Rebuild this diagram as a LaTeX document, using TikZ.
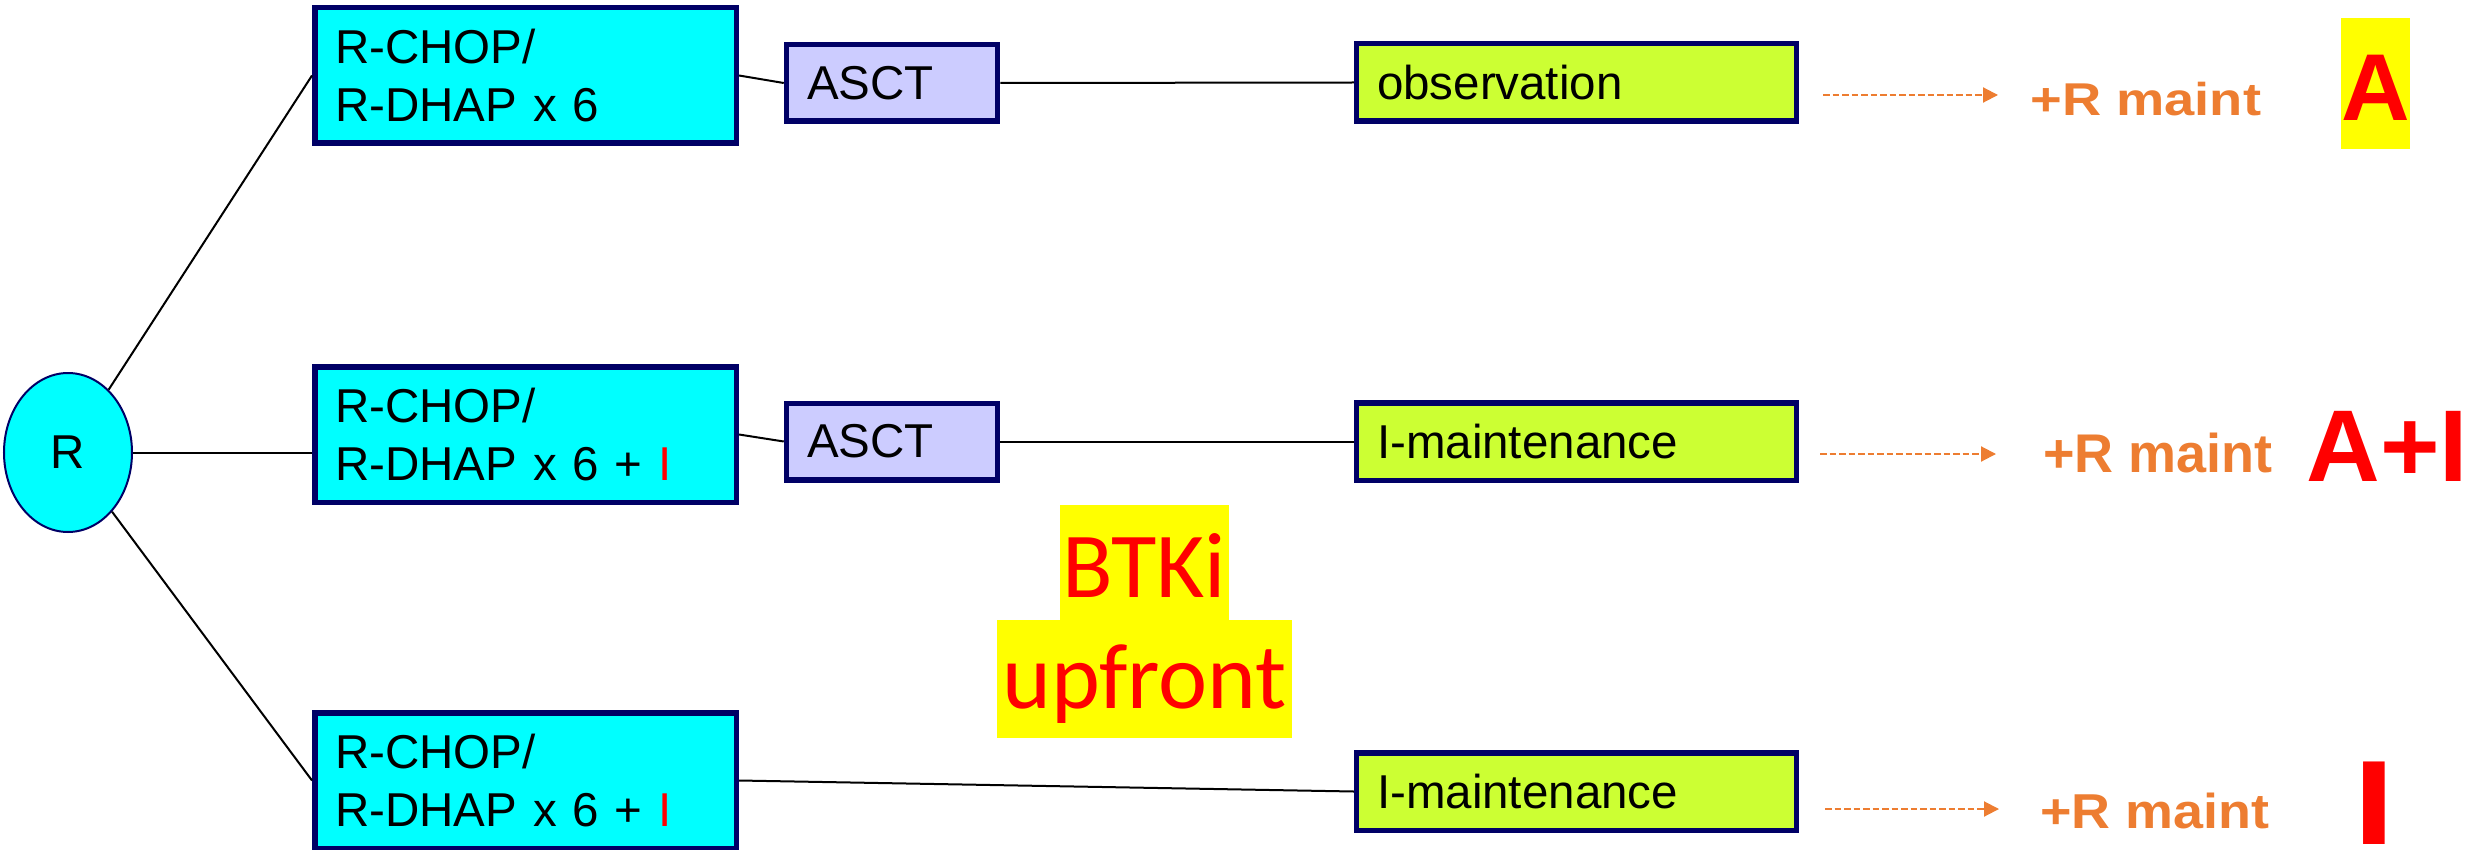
\documentclass[tikz,border=0pt]{standalone}
\usepackage{fontspec}
\setmainfont{Liberation Sans}
\newfontfamily\calib{Carlito}
\usetikzlibrary{arrows.meta,shapes.geometric}
\definecolor{navy}{RGB}{0,0,102}
\definecolor{boxcyan}{RGB}{0,255,255}
\definecolor{asctfill}{RGB}{204,204,255}
\definecolor{limefill}{RGB}{204,255,51}
\definecolor{orng}{RGB}{237,125,49}
\definecolor{hiyel}{RGB}{255,255,0}
\definecolor{txtred}{RGB}{255,0,0}
\begin{document}
\begin{tikzpicture}[x=0.5pt,y=-0.5pt,
  boxbase/.style={draw=navy, line width=2.75pt, inner ysep=0pt, inner xsep=10.25pt, align=left,
    font=\fontsize{23.75pt}{29pt}\selectfont},
  chemo/.style={boxbase, fill=boxcyan, text width=190.25pt, minimum height=67.75pt},
  asct/.style={boxbase, fill=asctfill, text width=85pt, minimum height=38.25pt},
  maint/.style={boxbase, fill=limefill, text width=199.5pt, minimum height=38.75pt},
  randnode/.style={ellipse, draw=navy, line width=1pt, fill=boxcyan, minimum width=64pt,
    minimum height=79.5pt, inner sep=0pt, font=\fontsize{23.75pt}{29pt}\selectfont},
  conn/.style={draw=black, line width=1pt},
  dotarrow/.style={draw=orng, line width=1pt, dash pattern=on 3.25pt off 1.5pt,
    -{Triangle[length=7.5pt,width=7.5pt]}},
  rmaint/.style={text=orng, anchor=base west, inner sep=0pt},
  bigred/.style={text=txtred, anchor=base, inner sep=0pt},
  hilite/.style={fill=hiyel, text=txtred, inner sep=0pt,
    font=\calib\fontsize{46.5pt}{50pt}\selectfont}
]
\useasboundingbox (0,0) rectangle (2476,850);

% randomisation
\node[randnode] (R) at (68,452.5) {R};

% induction boxes
\node[chemo] (c1) at (525.5,75.5) {R-CHOP/\\R-DHAP x 6};
\node[chemo] (c2) at (525.5,434.5) {R-CHOP/\\R-DHAP x 6 + \textcolor{txtred}{I}};
\node[chemo] (c3) at (525.5,780.5) {R-CHOP/\\R-DHAP x 6 + \textcolor{txtred}{I}};

% ASCT boxes
\node[asct] (a1) at (892,83) {ASCT};
\node[asct] (a2) at (892,441.5) {ASCT};

% maintenance boxes
\node[maint] (g1) at (1576.5,82.5) {observation};
\node[maint] (g2) at (1576.5,441.5) {I-maintenance};
\node[maint] (g3) at (1576.5,791.5) {I-maintenance};

% connectors
\draw[conn] (R) -- (c1.west);
\draw[conn] (R.east) -- (R.east -| c2.west);
\draw[conn] (R) -- (c3.west);
\draw[conn] (c1.east) -- (a1.west);
\draw[conn] (a1.east) -- (g1.west);
\draw[conn] (c2.east) -- (a2.west);
\draw[conn] (a2.east) -- (g2.west);
\draw[conn] (c3.east) -- (g3.west);

% dotted arrows
\coordinate (s1) at (1823,95);  \coordinate (e1) at (1998,95);
\coordinate (s2) at (1820,454); \coordinate (e2) at (1996,454);
\coordinate (s3) at (1825,809); \coordinate (e3) at (1999,809);
\draw[dotarrow] (s1) -- (e1);
\draw[dotarrow] (s2) -- (e2);
\draw[dotarrow] (s3) -- (e3);

% +R maint labels
\node[rmaint, font=\bfseries\fontsize{23pt}{26pt}\selectfont] (m1) at (2030,116) {\scalebox{1.18}[1]{+R maint}};
\node[rmaint, font=\bfseries\fontsize{27.25pt}{30pt}\selectfont] (m2) at (2043,472) {\scalebox{0.99}[1]{+R maint}};
\node[rmaint, font=\bfseries\fontsize{24.5pt}{28pt}\selectfont] (m3) at (2040,828) {\scalebox{1.1}[1]{+R maint}};

% arm labels
\node[bigred, fill=hiyel, minimum width=32.5pt, text height=51.5pt, text depth=14pt,
  font=\bfseries\fontsize{47.5pt}{50pt}\selectfont] (armA) at (2375.5,121) {A};
\node[bigred, font=\bfseries\fontsize{51pt}{55pt}\selectfont] (armAI) at (2387.5,481) {A+I};
\node[bigred, font=\bfseries\fontsize{60pt}{64pt}\selectfont] (armI) at (2374,844) {\scalebox{1.25}[1]{I}};

% BTKi upfront
\node[hilite, minimum width=84.5pt, text height=46pt, text depth=11.5pt, anchor=base] (btki) at (1144.5,597) {BTKi};
\node[hilite, minimum width=147.5pt, text height=44pt, text depth=15pt, anchor=base] (upf) at (1144.5,708) {upfront};
\end{tikzpicture}
\end{document}
